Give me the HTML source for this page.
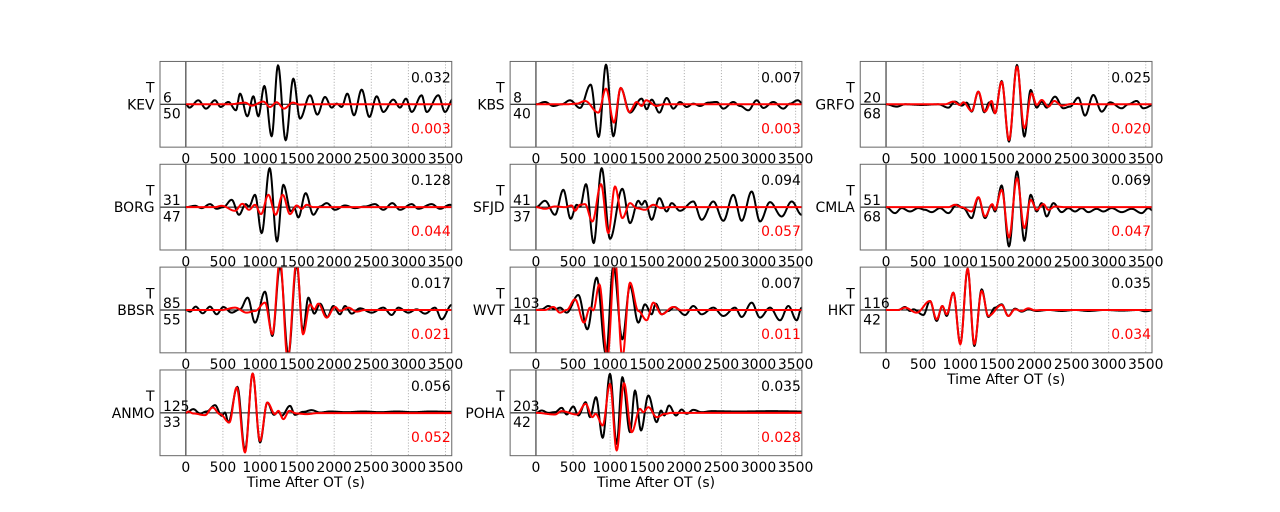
<!DOCTYPE html>
<html>
<head>
<meta charset="utf-8">
<style>
html,body{margin:0;padding:0;background:#fff;}
svg{display:block;}
text{font-family:"DejaVu Sans","Liberation Sans",sans-serif;font-size:13.9px;fill:#000;}
.tk text{text-anchor:middle;}
.e{text-anchor:end;}
.r{fill:#ff0000;}
</style>
</head>
<body>
<svg id="fig" width="1280" height="512" viewBox="0 0 1280 512" xmlns="http://www.w3.org/2000/svg">
<defs>
<clipPath id="cp" clipPathUnits="userSpaceOnUse"><rect x="0" y="0" width="291.76" height="85.71"/></clipPath>
<g id="axbg">
<g stroke="#b0b0b0" stroke-width="1" stroke-dasharray="1.1 1.8">
<line x1="62.9" y1="0" x2="62.9" y2="85.71"/>
<line x1="100" y1="0" x2="100" y2="85.71"/>
<line x1="137.1" y1="0" x2="137.1" y2="85.71"/>
<line x1="174.2" y1="0" x2="174.2" y2="85.71"/>
<line x1="211.3" y1="0" x2="211.3" y2="85.71"/>
<line x1="248.4" y1="0" x2="248.4" y2="85.71"/>
<line x1="285.5" y1="0" x2="285.5" y2="85.71"/>
</g>
<line x1="25.8" y1="0" x2="25.8" y2="85.71" stroke="#666" stroke-width="1.5"/>
<line x1="0" y1="42.855" x2="291.76" y2="42.855" stroke="#000" stroke-width="1"/>
</g>
<rect id="frm" x="0" y="0" width="291.76" height="85.71" fill="none" stroke="#666" stroke-width="1"/>
</defs>

<!-- KEV -->
<g transform="translate(160,61.44)">
<use href="#axbg"/><g clip-path="url(#cp)" id="p0"></g><use href="#frm"/>
<text class="e" x="-5.5" y="31.25">T</text><text class="e" x="-5.5" y="47.85">KEV</text>
<text x="3" y="40.85">6</text><text x="3" y="57.25">50</text>
<text class="e" x="290.76" y="20.85">0.032</text><text class="e r" x="290.76" y="71.85">0.003</text>
<g class="tk"><text x="25.8" y="102.01">0</text><text x="62.9" y="102.01">500</text><text x="100" y="102.01">1000</text><text x="137.1" y="102.01">1500</text><text x="174.2" y="102.01">2000</text><text x="211.3" y="102.01">2500</text><text x="248.4" y="102.01">3000</text><text x="285.5" y="102.01">3500</text></g>
</g>
<!-- KBS -->
<g transform="translate(510.12,61.44)">
<use href="#axbg"/><g clip-path="url(#cp)" id="p1"></g><use href="#frm"/>
<text class="e" x="-5.5" y="31.25">T</text><text class="e" x="-5.5" y="47.85">KBS</text>
<text x="3" y="40.85">8</text><text x="3" y="57.25">40</text>
<text class="e" x="290.76" y="20.85">0.007</text><text class="e r" x="290.76" y="71.85">0.003</text>
<g class="tk"><text x="25.8" y="102.01">0</text><text x="62.9" y="102.01">500</text><text x="100" y="102.01">1000</text><text x="137.1" y="102.01">1500</text><text x="174.2" y="102.01">2000</text><text x="211.3" y="102.01">2500</text><text x="248.4" y="102.01">3000</text><text x="285.5" y="102.01">3500</text></g>
</g>
<!-- GRFO -->
<g transform="translate(860.24,61.44)">
<use href="#axbg"/><g clip-path="url(#cp)" id="p2"></g><use href="#frm"/>
<text class="e" x="-5.5" y="31.25">T</text><text class="e" x="-5.5" y="47.85">GRFO</text>
<text x="3" y="40.85">20</text><text x="3" y="57.25">68</text>
<text class="e" x="290.76" y="20.85">0.025</text><text class="e r" x="290.76" y="71.85">0.020</text>
<g class="tk"><text x="25.8" y="102.01">0</text><text x="62.9" y="102.01">500</text><text x="100" y="102.01">1000</text><text x="137.1" y="102.01">1500</text><text x="174.2" y="102.01">2000</text><text x="211.3" y="102.01">2500</text><text x="248.4" y="102.01">3000</text><text x="285.5" y="102.01">3500</text></g>
</g>
<!-- BORG -->
<g transform="translate(160,164.28)">
<use href="#axbg"/><g clip-path="url(#cp)" id="p3"></g><use href="#frm"/>
<text class="e" x="-5.5" y="31.25">T</text><text class="e" x="-5.5" y="47.85">BORG</text>
<text x="3" y="40.85">31</text><text x="3" y="57.25">47</text>
<text class="e" x="290.76" y="20.85">0.128</text><text class="e r" x="290.76" y="71.85">0.044</text>
<g class="tk"><text x="25.8" y="102.01">0</text><text x="62.9" y="102.01">500</text><text x="100" y="102.01">1000</text><text x="137.1" y="102.01">1500</text><text x="174.2" y="102.01">2000</text><text x="211.3" y="102.01">2500</text><text x="248.4" y="102.01">3000</text><text x="285.5" y="102.01">3500</text></g>
</g>
<!-- SFJD -->
<g transform="translate(510.12,164.28)">
<use href="#axbg"/><g clip-path="url(#cp)" id="p4"></g><use href="#frm"/>
<text class="e" x="-5.5" y="31.25">T</text><text class="e" x="-5.5" y="47.85">SFJD</text>
<text x="3" y="40.85">41</text><text x="3" y="57.25">37</text>
<text class="e" x="290.76" y="20.85">0.094</text><text class="e r" x="290.76" y="71.85">0.057</text>
<g class="tk"><text x="25.8" y="102.01">0</text><text x="62.9" y="102.01">500</text><text x="100" y="102.01">1000</text><text x="137.1" y="102.01">1500</text><text x="174.2" y="102.01">2000</text><text x="211.3" y="102.01">2500</text><text x="248.4" y="102.01">3000</text><text x="285.5" y="102.01">3500</text></g>
</g>
<!-- CMLA -->
<g transform="translate(860.24,164.28)">
<use href="#axbg"/><g clip-path="url(#cp)" id="p5"></g><use href="#frm"/>
<text class="e" x="-5.5" y="31.25">T</text><text class="e" x="-5.5" y="47.85">CMLA</text>
<text x="3" y="40.85">51</text><text x="3" y="57.25">68</text>
<text class="e" x="290.76" y="20.85">0.069</text><text class="e r" x="290.76" y="71.85">0.047</text>
<g class="tk"><text x="25.8" y="102.01">0</text><text x="62.9" y="102.01">500</text><text x="100" y="102.01">1000</text><text x="137.1" y="102.01">1500</text><text x="174.2" y="102.01">2000</text><text x="211.3" y="102.01">2500</text><text x="248.4" y="102.01">3000</text><text x="285.5" y="102.01">3500</text></g>
</g>
<!-- BBSR -->
<g transform="translate(160,267.12)">
<use href="#axbg"/><g clip-path="url(#cp)" id="p6"></g><use href="#frm"/>
<text class="e" x="-5.5" y="31.25">T</text><text class="e" x="-5.5" y="47.85">BBSR</text>
<text x="3" y="40.85">85</text><text x="3" y="57.25">55</text>
<text class="e" x="290.76" y="20.85">0.017</text><text class="e r" x="290.76" y="71.85">0.021</text>
<g class="tk"><text x="25.8" y="102.01">0</text><text x="62.9" y="102.01">500</text><text x="100" y="102.01">1000</text><text x="137.1" y="102.01">1500</text><text x="174.2" y="102.01">2000</text><text x="211.3" y="102.01">2500</text><text x="248.4" y="102.01">3000</text><text x="285.5" y="102.01">3500</text></g>
</g>
<!-- WVT -->
<g transform="translate(510.12,267.12)">
<use href="#axbg"/><g clip-path="url(#cp)" id="p7"></g><use href="#frm"/>
<text class="e" x="-5.5" y="31.25">T</text><text class="e" x="-5.5" y="47.85">WVT</text>
<text x="3" y="40.85">103</text><text x="3" y="57.25">41</text>
<text class="e" x="290.76" y="20.85">0.007</text><text class="e r" x="290.76" y="71.85">0.011</text>
<g class="tk"><text x="25.8" y="102.01">0</text><text x="62.9" y="102.01">500</text><text x="100" y="102.01">1000</text><text x="137.1" y="102.01">1500</text><text x="174.2" y="102.01">2000</text><text x="211.3" y="102.01">2500</text><text x="248.4" y="102.01">3000</text><text x="285.5" y="102.01">3500</text></g>
</g>
<!-- HKT -->
<g transform="translate(860.24,267.12)">
<use href="#axbg"/><g clip-path="url(#cp)" id="p8"></g><use href="#frm"/>
<text class="e" x="-5.5" y="31.25">T</text><text class="e" x="-5.5" y="47.85">HKT</text>
<text x="3" y="40.85">116</text><text x="3" y="57.25">42</text>
<text class="e" x="290.76" y="20.85">0.035</text><text class="e r" x="290.76" y="71.85">0.034</text>
<g class="tk"><text x="25.8" y="102.01">0</text><text x="62.9" y="102.01">500</text><text x="100" y="102.01">1000</text><text x="137.1" y="102.01">1500</text><text x="174.2" y="102.01">2000</text><text x="211.3" y="102.01">2500</text><text x="248.4" y="102.01">3000</text><text x="285.5" y="102.01">3500</text></g>
<text x="145.88" y="117.01" style="text-anchor:middle">Time After OT (s)</text>
</g>
<!-- ANMO -->
<g transform="translate(160,369.97)">
<use href="#axbg"/><g clip-path="url(#cp)" id="p9"></g><use href="#frm"/>
<text class="e" x="-5.5" y="31.25">T</text><text class="e" x="-5.5" y="47.85">ANMO</text>
<text x="3" y="40.85">125</text><text x="3" y="57.25">33</text>
<text class="e" x="290.76" y="20.85">0.056</text><text class="e r" x="290.76" y="71.85">0.052</text>
<g class="tk"><text x="25.8" y="102.01">0</text><text x="62.9" y="102.01">500</text><text x="100" y="102.01">1000</text><text x="137.1" y="102.01">1500</text><text x="174.2" y="102.01">2000</text><text x="211.3" y="102.01">2500</text><text x="248.4" y="102.01">3000</text><text x="285.5" y="102.01">3500</text></g>
<text x="145.88" y="117.01" style="text-anchor:middle">Time After OT (s)</text>
</g>
<!-- POHA -->
<g transform="translate(510.12,369.97)">
<use href="#axbg"/><g clip-path="url(#cp)" id="p10"></g><use href="#frm"/>
<text class="e" x="-5.5" y="31.25">T</text><text class="e" x="-5.5" y="47.85">POHA</text>
<text x="3" y="40.85">203</text><text x="3" y="57.25">42</text>
<text class="e" x="290.76" y="20.85">0.035</text><text class="e r" x="290.76" y="71.85">0.028</text>
<g class="tk"><text x="25.8" y="102.01">0</text><text x="62.9" y="102.01">500</text><text x="100" y="102.01">1000</text><text x="137.1" y="102.01">1500</text><text x="174.2" y="102.01">2000</text><text x="211.3" y="102.01">2500</text><text x="248.4" y="102.01">3000</text><text x="285.5" y="102.01">3500</text></g>
<text x="145.88" y="117.01" style="text-anchor:middle">Time After OT (s)</text>
</g>
</svg>
<script>
(function(){
var D=[
{ox:130,zy0:162,L:160,
 b:[[168,162],[178,172],[205,150],[228,175],[255,150],[272,170],[295,155],[318,180],[330,130],[352,198],[370,138],[385,198],[403,107],[425,258],[444,45],[467,270],[490,85],[510,205],[540,135],[562,193],[585,140],[605,172],[620,160],[635,170],[652,130],[672,195],[695,118],[718,200],[740,138],[760,185],[790,148],[810,172],[828,145],[845,185],[875,135],[890,185],[925,135],[945,185],[970,145]],
 r:[[168,162],[300,162],[345,157],[365,166],[400,154],[420,170],[440,156],[462,175],[488,157],[510,163],[530,162],[975,162]]},
{ox:500,zy0:147,L:510.12,
 b:[[108,147],[135,140],[160,152],[185,147],[210,135],[240,158],[272,88],[296,245],[318,28],[340,243],[362,98],[390,172],[425,130],[440,162],[455,133],[478,172],[500,128],[520,160],[540,140],[560,155],[580,145],[600,152],[625,142],[650,140],[670,160],[700,140],[720,152],[745,165],[770,135],[790,158],[820,140],[850,160],[870,145],[893,135],[915,152]],
 r:[[108,147],[200,147],[230,145],[255,137],[295,172],[318,100],[342,202],[362,98],[388,170],[410,140],[425,152],[438,135],[470,152],[490,147],[915,147]]},
{ox:855,zy0:138,L:860.24,
 b:[[93,138],[125,145],[150,138],[200,140],[250,138],[280,148],[300,130],[320,142],[335,133],[350,160],[370,100],[388,162],[403,132],[420,165],[440,68],[462,250],[486,20],[508,235],[527,95],[545,148],[560,130],[575,148],[600,115],[625,150],[645,145],[670,118],[690,172],[715,110],[740,160],[765,132],[800,150],[820,138],[845,128],[865,150],[900,138]],
 r:[[93,138],[270,138],[295,130],[315,140],[325,132],[350,158],[370,100],[390,160],[410,128],[420,165],[440,70],[462,245],[486,25],[508,210],[530,105],[545,140],[560,125],[580,145],[598,128],[620,142],[650,137],[700,138],[900,138]]},
{ox:155,zy0:137,L:160,
 b:[[93,137],[120,133],[140,140],[165,128],[185,142],[205,137],[230,115],[252,160],[272,128],[282,135],[300,100],[320,215],[344,20],[366,240],[385,70],[408,150],[418,140],[430,168],[452,95],[475,160],[495,135],[515,125],[540,145],[570,132],[600,140],[630,135],[660,128],[685,145],[712,125],[735,145],[770,128],[790,142],[830,128],[855,142],[885,130],[905,137]],
 r:[[93,137],[180,137],[200,133],[240,148],[262,127],[282,145],[300,130],[318,158],[340,100],[362,160],[383,100],[405,158],[425,132],[440,142],[455,130],[475,137],[905,137]]},
{ox:505,zy0:137,L:510.12,
 b:[[93,137],[120,118],[150,160],[175,85],[197,172],[215,130],[225,136],[243,68],[266,245],[290,20],[315,232],[352,82],[375,185],[400,118],[410,130],[420,118],[440,175],[463,110],[485,150],[500,125],[525,148],[565,120],[590,175],[625,120],[655,178],[685,100],[710,178],[740,90],[765,180],[795,122],[830,165],[860,120],[890,160],[905,150]],
 r:[[93,137],[120,142],[150,135],[180,137],[200,132],[210,148],[225,130],[240,128],[262,180],[288,68],[310,215],[330,75],[352,170],[375,125],[395,140],[420,145],[445,130],[470,140],[490,137],[905,137]]},
{ox:855,zy0:137,L:860.24,
 b:[[93,137],[120,155],[140,140],[165,150],[190,140],[210,145],[230,152],[255,140],[280,155],[305,130],[325,140],[350,170],[370,108],[390,170],[410,130],[420,150],[440,72],[462,255],[486,30],[508,238],[527,100],[545,150],[560,125],[575,165],[595,125],[620,152],[640,140],[660,150],[680,140],[700,152],[725,142],[745,150],[770,140],[800,152],[830,142],[860,155],[880,140],[900,152]],
 r:[[93,137],[280,137],[300,130],[320,137],[350,150],[370,107],[390,165],[412,128],[420,145],[440,85],[462,228],[486,50],[508,200],[527,115],[545,145],[565,128],[580,145],[600,135],[630,137],[900,137]]},
{ox:155,zy0:137,L:160,
 b:[[93,137],[105,142],[122,127],[143,147],[165,127],[185,150],[205,128],[230,145],[255,135],[278,100],[300,175],[330,82],[352,215],[375,5],[400,272],[425,0],[444,200],[460,100],[478,148],[495,118],[517,158],[535,125],[555,150],[570,125],[590,148],[615,132],[650,145],[685,130],[710,152],[730,130],[760,145],[785,135],[810,148],[840,130],[860,165],[890,122],[905,128]],
 r:[[93,137],[200,137],[240,130],[275,145],[300,140],[330,115],[352,210],[375,-15],[398,285],[425,-10],[444,210],[465,120],[478,135],[490,118],[515,160],[540,128],[555,140],[580,130],[605,142],[630,137],[905,137]]},
{ox:505,zy0:137,L:510.12,
 b:[[93,137],[110,135],[130,125],[150,135],[165,130],[185,145],[220,92],[247,195],[275,40],[303,270],[325,5],[352,225],[375,65],[400,175],[420,120],[440,150],[452,118],[470,150],[490,140],[508,128],[540,152],[565,125],[590,150],[625,130],[655,155],[690,130],[710,158],[740,115],[765,160],[795,130],[825,168],[850,125],[875,168],[890,130],[905,135]],
 r:[[93,137],[120,137],[145,128],[165,145],[185,137],[210,105],[237,175],[255,130],[265,138],[283,60],[307,280],[330,-15],[352,280],[375,55],[400,140],[425,168],[445,115],[470,150],[505,128],[530,138],[560,137],[905,137]]},
{ox:855,zy0:137,L:860.24,
 b:[[93,137],[130,137],[150,128],[165,140],[175,135],[205,152],[225,110],[245,170],[262,125],[275,155],[295,85],[316,238],[338,15],[358,245],[380,75],[400,158],[420,130],[440,120],[460,155],[480,133],[500,142],[520,135],[545,140],[580,137],[620,140],[660,137],[700,140],[750,137],[800,139],[850,137],[870,141],[900,137]],
 r:[[93,137],[130,137],[150,130],[185,145],[225,110],[245,165],[262,125],[275,150],[295,85],[316,240],[338,12],[358,240],[380,80],[400,155],[440,122],[460,155],[480,135],[500,140],[520,132],[540,138],[560,137],[900,137]]},
{ox:130,zy0:156,L:160,
 b:[[168,156],[190,145],[210,158],[230,152],[255,133],[275,165],[285,155],[295,185],[322,78],[345,268],[368,38],[390,245],[412,125],[432,162],[445,152],[455,165],[480,135],[495,162],[520,153],[545,148],[570,155],[600,152],[650,154],[700,152],[750,154],[800,152],[850,154],[900,152],[975,153]],
 r:[[168,156],[175,152],[190,158],[225,163],[248,140],[270,160],[298,185],[320,80],[345,275],[368,38],[390,240],[412,125],[435,160],[445,150],[460,175],[478,150],[500,158],[530,160],[560,157],[600,157],[975,157]]},
{ox:505,zy0:137,L:510.12,
 b:[[93,137],[110,130],[130,137],[150,135],[170,122],[185,142],[205,118],[220,145],[242,105],[255,150],[273,90],[293,212],[315,20],[335,230],[352,30],[375,195],[390,70],[408,190],[430,85],[455,165],[468,130],[478,145],[492,115],[513,145],[530,127],[545,140],[565,128],[590,135],[620,132],[700,133],[800,132],[905,133]],
 r:[[93,137],[150,142],[170,132],[215,142],[242,110],[262,150],[272,140],[293,175],[315,50],[335,250],[357,48],[380,195],[405,125],[415,135],[430,120],[455,150],[480,140],[500,137],[905,137]]}
];
var NS="http://www.w3.org/2000/svg";
function mk(d,pts){
  var cy=42.855;
  var P=pts.map(function(q){return [d.ox+q[0]/3-d.L, cy+(q[1]-d.zy0)/3];});
  var s='M'+P[0][0].toFixed(2)+' '+P[0][1].toFixed(2);
  for(var i=0;i<P.length-1;i++){
    var x1=P[i][0],y1=P[i][1],x2=P[i+1][0],y2=P[i+1][1];
    var n=Math.max(2,Math.ceil((x2-x1)*1.5));
    for(var k=1;k<=n;k++){
      var u=k/n;
      s+=' L'+(x1+(x2-x1)*u).toFixed(2)+' '+(y1+(y2-y1)*(1-Math.cos(Math.PI*u))/2).toFixed(2);
    }
  }
  return s;
}
D.forEach(function(d,i){
  var g=document.getElementById('p'+i);
  [['b','#000000'],['r','#ff0000']].forEach(function(c){
    var p=document.createElementNS(NS,'path');
    p.setAttribute('d',mk(d,d[c[0]]));
    p.setAttribute('fill','none');
    p.setAttribute('stroke',c[1]);
    p.setAttribute('stroke-width','2');
    p.setAttribute('stroke-linejoin','round');
    g.appendChild(p);
  });
});
})();
</script>
</body>
</html>
